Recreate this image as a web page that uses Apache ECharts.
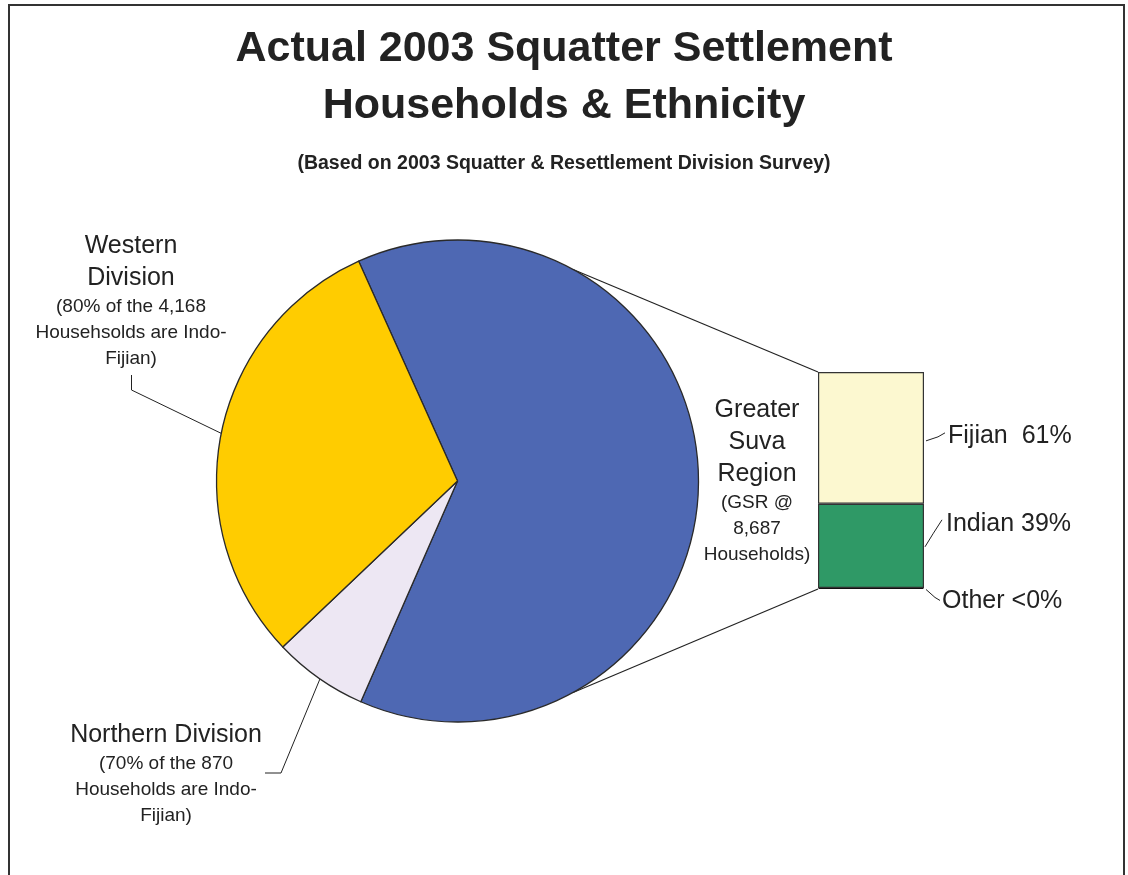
<!DOCTYPE html>
<html>
<head>
<meta charset="utf-8">
<title>Actual 2003 Squatter Settlement Households &amp; Ethnicity</title>
<script src="https://cdn.jsdelivr.net/npm/echarts@6/dist/echarts.min.js"></script>
<style>
  html, body { margin: 0; padding: 0; background: #fff; }
  #chart { width: 1128px; height: 875px; }
</style>
</head>
<body>
<div id="chart"></div>
<script>
// pie: households per division
const regions = ['Greater Suva Region', 'Northern Division', 'Western Division'];
const households = [8687, 870, 4168];
const regionColors = ['#4e68b3', '#ede7f3', '#ffcc00'];
const regionLabels = [
  ['Greater', 'Suva', 'Region'], ['(GSR @', '8,687', 'Households)'],
  ['Northern Division'], ['(70% of the 870', 'Households are Indo-', 'Fijian)'],
  ['Western', 'Division'], ['(80% of the 4,168', 'Househsolds are Indo-', 'Fijian)']
];

// bar: ethnicity inside the Greater Suva Region (bottom to top)
const ethnicGroups = ['Other', 'Indian', 'Fijian'];
const ethnicShare = [0.5, 39, 61];
const ethnicText = ['Other <0%', 'Indian 39%', 'Fijian  61%'];
const ethnicColors = ['#1a1a1a', '#2f9966', '#fcf8d0'];

const FONT = "'Liberation Sans', Arial, sans-serif";
const TEXT = '#222';
const pieCenter = [457.5, 481];
const pieRadius = 241;
const barGrid = { left: 818, top: 372, width: 106, height: 217 };
const shareTotal = ethnicShare.reduce((a, b) => a + b, 0);

function onCircle(deg) {
  const a = deg * Math.PI / 180;
  return [pieCenter[0] + pieRadius * Math.cos(a), pieCenter[1] + pieRadius * Math.sin(a)];
}

function richLabel(i) {
  const big = regionLabels[i * 2].map((t) => `{a|${t}}`);
  const small = regionLabels[i * 2 + 1].map((t) => `{b|${t}}`);
  return big.concat(small).join('\n');
}

const chart = echarts.init(document.getElementById('chart'));

const pieLayout = [
  // GSR, Northern, Western
  { x: 757, y: 394, line: null },
  { x: 166, y: 719, line: [onCircle(124.8), [281, 773], [265, 773]] },
  { x: 131, y: 230, line: [onCircle(191.4), [131.5, 390], [131.5, 375]] }
];

// label offsets and leader shapes, relative to each bar segment (right edge r, middle m)
const barLayout = [
  { dx: 18, dy: 13, line: (r, m) => [[r + 2, m + 1], [935, m + 9], [940, m + 12]] },
  { dx: 22, dy: -22, line: (r, m) => [[r + 1, m + 1], [933, m - 12], [942, m - 26]] },
  { dx: 24, dy: -2, line: (r, m) => [[r + 2, m + 3], [938, m - 1], [945, m - 5]] }
];

const option = {
  animation: false,
  backgroundColor: '#fff',
  title: [
    {
      text: 'Actual 2003 Squatter Settlement\nHouseholds & Ethnicity',
      left: 'center',
      top: 16,
      textStyle: { fontFamily: FONT, fontSize: 43, fontWeight: 'bold', color: TEXT, lineHeight: 57 }
    },
    {
      text: '(Based on 2003 Squatter & Resettlement Division Survey)',
      left: 'center',
      top: 147,
      textStyle: { fontFamily: FONT, fontSize: 19.5, fontWeight: 'bold', color: TEXT, lineHeight: 24 }
    }
  ],
  grid: Object.assign({}, barGrid),
  xAxis: { type: 'category', data: ['GSR'], show: false },
  yAxis: { type: 'value', min: 0, max: shareTotal, show: false },
  series: [
    {
      type: 'pie',
      center: pieCenter,
      radius: pieRadius,
      startAngle: 114.2,
      clockwise: true,
      silent: true,
      itemStyle: { borderColor: '#2a2a2a', borderWidth: 1.3 },
      label: {
        show: true,
        position: 'outside',
        overflow: 'none',
        fontFamily: FONT,
        color: TEXT,
        align: 'center',
        rich: {
          a: { fontFamily: FONT, fontSize: 25, lineHeight: 32, color: TEXT, align: 'center' },
          b: { fontFamily: FONT, fontSize: 19, lineHeight: 26, color: TEXT, align: 'center' }
        }
      },
      labelLine: { show: true, lineStyle: { color: '#222', width: 1 } },
      labelLayout(p) {
        const l = pieLayout[p.dataIndex];
        const out = { x: l.x, y: l.y, align: 'center', verticalAlign: 'top' };
        if (l.line) out.labelLinePoints = l.line;
        return out;
      },
      data: regions.map((name, i) => ({
        name,
        value: households[i],
        itemStyle: { color: regionColors[i] },
        label: { formatter: richLabel(i) },
        labelLine: { show: i !== 0 }
      }))
    }
  ].concat(ethnicGroups.map((name, i) => ({
    type: 'bar',
    name,
    stack: 'gsr',
    barWidth: '100%',
    silent: true,
    data: [ethnicShare[i]],
    itemStyle: { color: ethnicColors[i], borderColor: i === 0 ? '#111' : '#333', borderWidth: 1.2 },
    label: {
      show: true,
      position: 'right',
      formatter: ethnicText[i],
      fontFamily: FONT,
      fontSize: 25,
      color: TEXT
    },
    labelLayout(p) {
      const r = p.rect.x + p.rect.width;
      const m = p.rect.y + p.rect.height / 2;
      const l = barLayout[i];
      return { x: r + l.dx, y: m + l.dy, align: 'left', verticalAlign: 'middle' };
    }
  })))
};

chart.setOption(option);

// connector lines from the bar corners to the pie, bar label leaders, outer frame
const yPx = (v) => chart.convertToPixel({ yAxisIndex: 0 }, v);
const barRight = barGrid.left + barGrid.width;
const barTop = yPx(shareTotal);
const barBottom = yPx(0);
const pTop = onCircle(-61.5);
const pBottom = onCircle(61.5);
const leaders = [];
let acc = 0;
ethnicShare.forEach((v, i) => {
  const mid = (yPx(acc) + yPx(acc + v)) / 2;
  acc += v;
  leaders.push({
    type: 'polyline', silent: true,
    shape: { points: barLayout[i].line(barRight, mid) },
    style: { stroke: '#222', lineWidth: 1, fill: null }
  });
});
chart.setOption({
  graphic: [
    { type: 'line', silent: true, shape: { x1: pTop[0], y1: pTop[1], x2: barGrid.left, y2: barTop }, style: { stroke: '#222', lineWidth: 1.2 } },
    { type: 'line', silent: true, shape: { x1: pBottom[0], y1: pBottom[1], x2: barGrid.left, y2: barBottom }, style: { stroke: '#222', lineWidth: 1.2 } },
    { type: 'polyline', silent: true, shape: { points: [[9, 880], [9, 5], [1124, 5], [1124, 880]] }, style: { stroke: '#333', lineWidth: 2, fill: null } }
  ].concat(leaders)
});
</script>
</body>
</html>
